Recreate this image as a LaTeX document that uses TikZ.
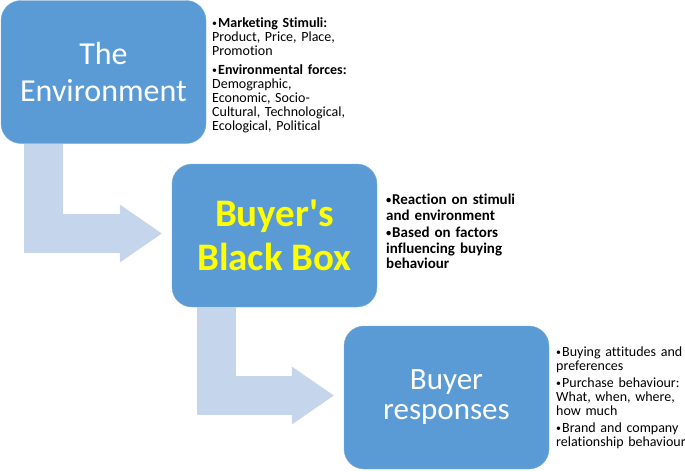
\documentclass[tikz,border=0pt]{standalone}
\usepackage{fontspec}
\setmainfont[Ligatures=NoCommon]{Carlito}
\usetikzlibrary{arrows.meta,positioning}
\definecolor{boxblue}{RGB}{91,155,213}
\definecolor{arrowblue}{RGB}{197,213,235}
\definecolor{titleyellow}{RGB}{255,255,0}
\newcommand{\bul}{\makebox[6pt][l]{\raisebox{0.08em}{\scalebox{0.7}{\textbullet}}}}
\newcommand{\sitem}[1]{\par\hangindent=6pt\hangafter=1\noindent\bul#1\par}
\tikzset{
  stage/.style={rectangle, rounded corners=20pt, fill=boxblue, draw=boxblue!80!white,
    minimum width=205pt, minimum height=143pt, align=center, text=white, inner sep=0pt},
  flow/.style={draw=arrowblue, line width=39pt,
    -{Triangle[length=42pt 0 0, width=58pt 0 0, line width=0pt]}},
  note/.style={anchor=north west, inner sep=0pt, align=left, text width=170pt}
}
\begin{document}
\begin{tikzpicture}[x=1pt,y=-1pt]
\useasboundingbox (0,0) rectangle (685,471);
% the three stages
\node[stage, font=\fontsize{32}{37}\selectfont] (env) at (103.5,72) {The\\Environment};
\node[stage, text=titleyellow, font=\bfseries\fontsize{39}{44}\selectfont] (bbox) at (274.5,235.5) {Buyer\textquotesingle s\\Black Box};
\node[stage, font=\fontsize{31}{30}\selectfont] (resp) at (446.5,397.5) {Buyer\\responses};
% bent arrows
\draw[flow] ([xshift=-60pt]env.south) |- ([xshift=-10pt,yshift=2pt]bbox.west);
\draw[flow] ([xshift=-58.5pt]bbox.south) |- ([xshift=-10pt,yshift=2pt]resp.west);
% side notes
\node[note, font=\fontsize{14}{14}\selectfont] (envnote) at (212,13) {%
  \sitem{\textbf{Marketing Stimuli:}\\Product, Price, Place,\\Promotion}\vspace{5pt}%
  \sitem{\textbf{Environmental forces:}\\Demographic,\\Economic, Socio-\\Cultural, Technological,\\Ecological, Political}};
\node[note, font=\bfseries\fontsize{15}{15.5}\selectfont] (bboxnote) at (386,189) {%
  \sitem{Reaction on stimuli\\and environment}\vspace{2pt}%
  \sitem{Based on factors\\influencing buying\\behaviour}};
\node[note, font=\fontsize{14}{14}\selectfont] (respnote) at (556,342) {%
  \sitem{Buying attitudes and\\preferences}\vspace{3pt}%
  \sitem{Purchase behaviour:\\What, when, where,\\how much}\vspace{3pt}%
  \sitem{Brand and company\\relationship behaviour}};
\end{tikzpicture}
\end{document}
